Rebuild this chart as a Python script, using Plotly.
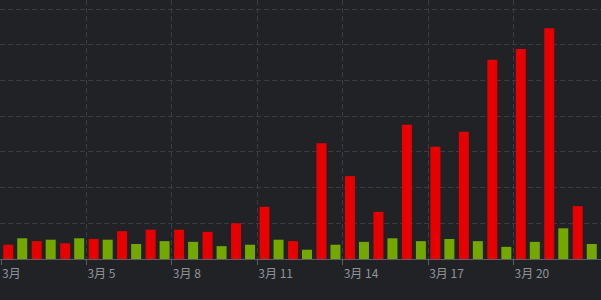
import datetime as dt
import plotly.graph_objects as go

# ---- data ----
dates = ["2020-03-%02d" % d for d in range(2, 23)]
red_values = [20, 25, 22, 28, 39, 41, 41, 38, 50, 73, 25, 162, 116, 66, 188, 157, 178, 279, 294, 323, 74]
green_values = [29, 27, 29, 27, 21, 25, 24, 18, 20, 27, 13, 20, 24, 29, 25, 28, 25, 17, 24, 43, 21]
tick_dates = ["2020-03-02", "2020-03-05", "2020-03-08", "2020-03-11", "2020-03-14", "2020-03-17", "2020-03-20"]
tick_labels = ["3月", "3月 5", "3月 8", "3月 11", "3月 14", "3月 17", "3月 20"]

# ---- geometry ----
W, H = 601, 300
PX_PER_DAY = 28.476
MS_PER_PX = 86400000 / PX_PER_DAY
start = dt.datetime(2020, 3, 2)
x0 = start - dt.timedelta(days=1 / PX_PER_DAY)
x1 = start + dt.timedelta(days=(W - 1) / PX_PER_DAY)

mid = [d + " 12:00" for d in dates]
bar_w = 10 * MS_PER_PX

bg = "#212226"
grid = "#3a3c41"

fig = go.Figure()
fig.add_trace(go.Bar(x=mid, y=red_values, marker=dict(color="#e80000", line_width=0),
                     width=bar_w, offset=-12 * MS_PER_PX, name="red"))
fig.add_trace(go.Bar(x=mid, y=green_values, marker=dict(color="#72a800", line_width=0),
                     width=bar_w, offset=2 * MS_PER_PX, name="green"))

fig.update_layout(
    width=W, height=H,
    margin=dict(l=0, r=0, t=0, b=41, pad=0),
    paper_bgcolor=bg, plot_bgcolor=bg,
    showlegend=False,
    barmode="overlay",
    font=dict(family="Noto Sans CJK SC, Noto Sans, sans-serif", size=12, color="#91949a"),
)
fig.update_xaxes(
    type="date",
    range=[x0, x1],
    tickvals=tick_dates, ticktext=tick_labels,
    ticklabelposition="outside right",
    ticklabelstandoff=4,
    ticks="outside", ticklen=5, tickcolor="#5b5d62", tickwidth=1,
    showgrid=True, gridcolor=grid, griddash="5px,3px", gridwidth=1,
    showline=True, linecolor="#5b5d62", linewidth=1,
    zeroline=False,
)
fig.update_yaxes(
    range=[0, 259 * 1.4],
    dtick=50, tick0=0,
    showticklabels=False,
    showgrid=True, gridcolor=grid, griddash="5px,3px", gridwidth=1,
    zeroline=False,
)
fig.write_html("out.html")
